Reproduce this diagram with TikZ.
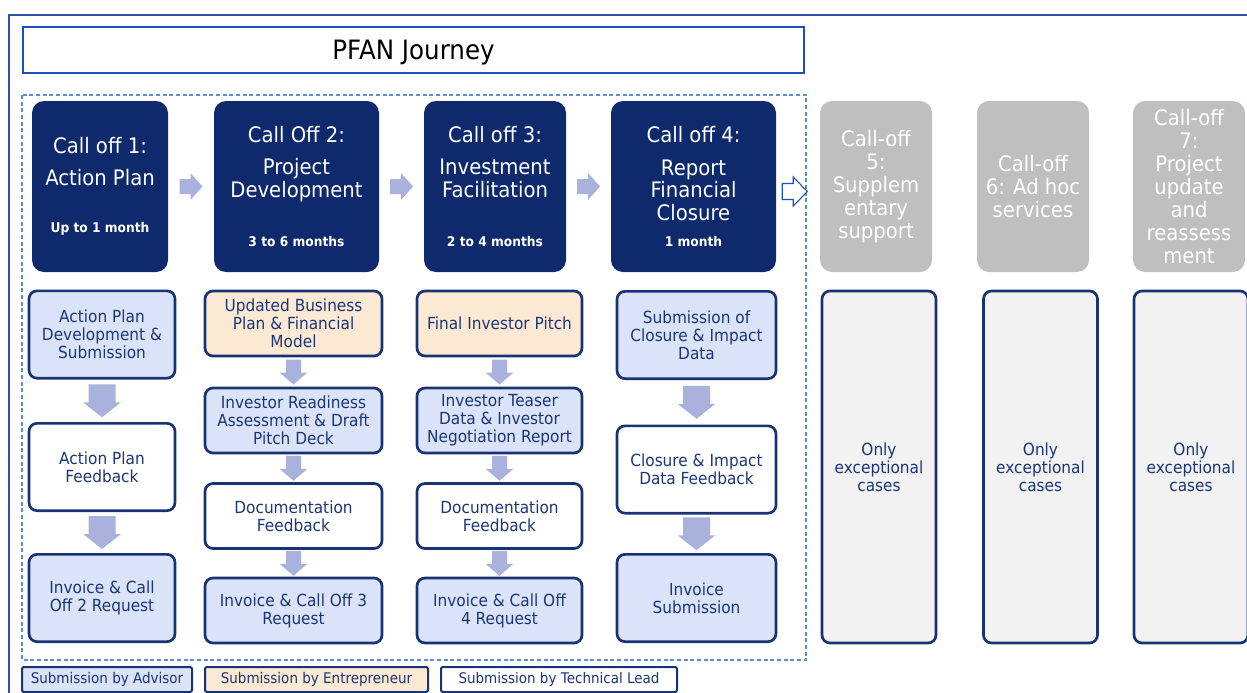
\documentclass[tikz,border=0pt]{standalone}
\usepackage{fontspec}
\setmainfont{DejaVu Sans}[FakeStretch=0.92]
\usetikzlibrary{positioning,calc}
\definecolor{navyfill}{RGB}{14,42,108}
\definecolor{navyline}{RGB}{24,50,116}
\definecolor{navytext}{RGB}{27,54,120}
\definecolor{advfill}{RGB}{218,227,248}
\definecolor{entfill}{RGB}{251,233,212}
\definecolor{excfill}{RGB}{242,242,242}
\definecolor{grayhd}{RGB}{191,191,191}
\definecolor{arrowc}{RGB}{168,178,220}
\definecolor{titleblue}{RGB}{31,78,190}
\definecolor{frameblue}{RGB}{47,82,160}
\definecolor{dashblue}{RGB}{91,139,217}
% block arrows, drawn round a centre point (units are px)
\newcommand{\bigdown}[1]{\fill[arrowc] (#1) ++(-13.5,-16.5) -- ++(27,0) -- ++(0,18) -- ++(5.5,0)
  -- ++(-19,15) -- ++(-19,-15) -- ++(5.5,0) -- cycle;}
\newcommand{\smalldown}[1]{\fill[arrowc] (#1) ++(-7.5,-12.5) -- ++(15,0) -- ++(0,13) -- ++(6.5,0)
  -- ++(-14,12) -- ++(-14,-12) -- ++(6.5,0) -- cycle;}
\newcommand{\blockright}[1]{\fill[arrowc] (#1) ++(-11.5,-7.5) -- ++(11,0) -- ++(0,-6) -- ++(12,13.5)
  -- ++(-12,13.5) -- ++(0,-6) -- ++(-11,0) -- cycle;}

\begin{document}
\begin{tikzpicture}[x=0.75pt,y=-0.75pt,
  header/.style={rounded corners=9pt,fill=navyfill,text=white,align=center,inner sep=0pt,
                 minimum height=128.25pt,font=\fontsize{16}{16.75}\selectfont},
  grayhead/.style={header,fill=grayhd,minimum width=84pt,font=\fontsize{16}{17.25}\selectfont},
  body/.style={draw=navyline,line width=2pt,rounded corners=6pt,align=center,inner sep=1pt,
               text=navytext,font=\fontsize{12.5}{13.5}\selectfont},
  advisor/.style={body,fill=advfill},
  entre/.style={body,fill=entfill},
  lead/.style={body,fill=white},
  exc/.style={body,fill=excfill,minimum width=85.5pt,minimum height=264pt},
  colA/.style={minimum width=109.5pt,minimum height=65.5pt},
  colB/.style={minimum width=132.75pt,minimum height=48.75pt},
  colC/.style={minimum width=123.75pt,minimum height=48.75pt},
  colD/.style={minimum width=119.25pt,minimum height=65.5pt},
  legend/.style={draw=navyline,line width=1.5pt,rounded corners=1.5pt,inner sep=1pt,
                 minimum height=18.75pt,text=navytext,font=\fontsize{11}{12}\selectfont}
]
\useasboundingbox (0,0) rectangle (1247,693);

% frames
\draw[frameblue,line width=1.5pt] (1247,15) -- (9,15) -- (9,693);
\draw[dashblue,line width=0.8pt,dash pattern=on 3pt off 2pt] (22,95) rectangle (806,660);
\node[draw=titleblue,line width=2pt,minimum width=585.75pt,minimum height=34.5pt,text depth=0pt,
      font=\fontsize{20}{22}\selectfont] (title) at (413.5,50) {PFAN Journey};

% call-off headers
\node[header,minimum width=102pt] (h1) at (100,186.5)
  {Call off 1:\\[7pt]Action Plan\\[19pt]{\fontsize{10}{12}\selectfont\bfseries Up to 1 month}};
\node[header,minimum width=123.75pt] (h2) at (296.5,186.5)
  {Call Off 2:\\[7.75pt]Project\\Development\\[20.3pt]{\fontsize{10}{12}\selectfont\bfseries 3 to 6 months}};
\node[header,minimum width=106.5pt] (h3) at (495,186.5)
  {Call off 3:\\[7.75pt]Investment\\Facilitation\\[20.3pt]{\fontsize{10}{12}\selectfont\bfseries 2 to 4 months}};
\node[header,minimum width=123.75pt] (h4) at (693.5,186.5)
  {Call off 4:\\[7.75pt]Report\\Financial\\Closure\\[3pt]{\fontsize{10}{12}\selectfont\bfseries 1 month}};
\node[grayhead] (h5) at (876,186.5) {Call-off\\5:\\Supplem\\entary\\support};
\node[grayhead] (h6) at (1033,186.5) {Call-off\\6: Ad hoc\\services};
\node[grayhead] (h7) at (1189,186.5) {Call-off\\7:\\Project\\update\\and\\reassess\\ment};

\blockright{$(h1.east)!0.5!(h2.west)$}
\blockright{$(h2.east)!0.5!(h3.west)$}
\blockright{$(h3.east)!0.5!(h4.west)$}
\draw[titleblue,fill=white,line width=0.8pt] ([xshift=4.5pt,yshift=-3.75pt]h4.east) ++(0,-8)
  -- ++(11,0) -- ++(0,-6.5) -- ++(14,14.5) -- ++(-14,14.5) -- ++(0,-6.5) -- ++(-11,0) -- cycle;

% column 1
\node[advisor,colA] (a1) at (102,334.5) {Action Plan\\Development \&\\Submission};
\node[lead,colA] (a2) at (102,467) {Action Plan\\Feedback};
\node[advisor,colA] (a3) at (102,598) {Invoice \& Call\\Off 2 Request};
% column 2
\node[entre,colB] (b1) at (293.5,323.5) {Updated Business\\Plan \& Financial\\Model};
\node[advisor,colB] (b2) at (293.5,420.5) {Investor Readiness\\Assessment \& Draft\\Pitch Deck};
\node[lead,colB] (b3) at (293.5,516) {Documentation\\Feedback};
\node[advisor,colB] (b4) at (293.5,610.5) {Invoice \& Call Off 3\\Request};
% column 3
\node[entre,colC] (c1) at (499.5,323.5) {Final Investor Pitch};
\node[advisor,colC] (c2) at (499.5,420.5) {Investor Teaser\\Data \& Investor\\Negotiation Report};
\node[lead,colC] (c3) at (499.5,516) {Documentation\\Feedback};
\node[advisor,colC] (c4) at (499.5,610.5) {Invoice \& Call Off\\4 Request};
% column 4
\node[advisor,colD] (d1) at (696.5,335) {Submission of\\Closure \& Impact\\Data};
\node[lead,colD] (d2) at (696.5,469.5) {Closure \& Impact\\Data Feedback};
\node[advisor,colD] (d3) at (696.5,598) {Invoice\\Submission};
% exceptional call-offs
\node[exc] (e5) at (879,467) {Only\\exceptional\\cases};
\node[exc] (e6) at (1040.5,467) {Only\\exceptional\\cases};
\node[exc] (e7) at (1191,467) {Only\\exceptional\\cases};

% down arrows
\bigdown{$(a1.south)!0.5!(a2.north)$}
\bigdown{$(a2.south)!0.5!(a3.north)$}
\smalldown{$(b1.south)!0.5!(b2.north)$}
\smalldown{$(b2.south)!0.5!(b3.north)$}
\smalldown{$(b3.south)!0.5!(b4.north)$}
\smalldown{$(c1.south)!0.5!(c2.north)$}
\smalldown{$(c2.south)!0.5!(c3.north)$}
\smalldown{$(c3.south)!0.5!(c4.north)$}
\bigdown{$(d1.south)!0.5!(d2.north)$}
\bigdown{$(d2.south)!0.5!(d3.north)$}

% legend
\node[legend,fill=advfill,minimum width=127.5pt] (lg1) at (107,679.5) {Submission by Advisor};
\node[legend,fill=entfill,minimum width=167.25pt] (lg2) at (316.5,679.5) {Submission by Entrepreneur};
\node[legend,fill=white,minimum width=177pt] (lg3) at (559,679.5) {Submission by Technical Lead};
\end{tikzpicture}
\end{document}
